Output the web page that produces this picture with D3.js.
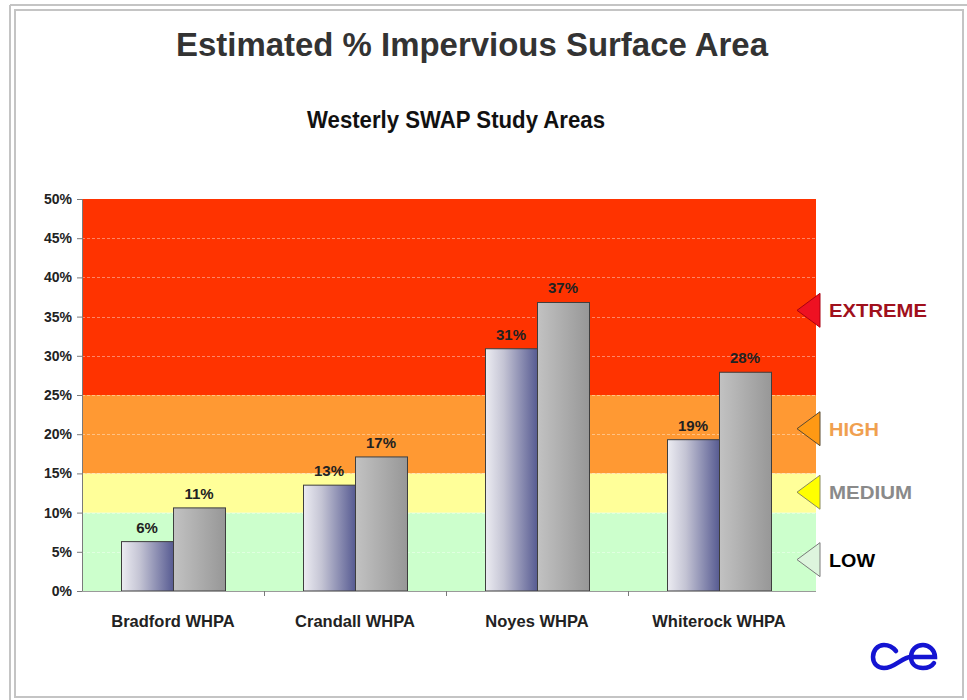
<!DOCTYPE html>
<html>
<head>
<meta charset="utf-8">
<script src="https://cdn.jsdelivr.net/npm/d3@7"></script>
<style>
  html, body { margin: 0; padding: 0; background: #ffffff; }
  svg { display: block; font-family: Arial, "Liberation Sans", sans-serif; }
</style>
</head>
<body>
<svg id="chart" width="967" height="700"></svg>
<script>
// ---- data ----
const categories = ["Bradford WHPA", "Crandall WHPA", "Noyes WHPA", "Whiterock WHPA"];
const seriesNames = ["A", "B"];
const seriesA = [6.3, 13.5, 30.9, 19.3];
const seriesB = [10.6, 17.1, 36.8, 27.9];
const labelsA = ["6%", "13%", "31%", "19%"];
const labelsB = ["11%", "17%", "37%", "28%"];
const yTicks = [0, 5, 10, 15, 20, 25, 30, 35, 40, 45, 50];
const yTickLabels = ["0%", "5%", "10%", "15%", "20%", "25%", "30%", "35%", "40%", "45%", "50%"];
const riskLevels = ["LOW", "MEDIUM", "HIGH", "EXTREME"];
const riskLower = [0, 10, 15, 25];
const riskUpper = [10, 15, 25, 50];
const riskMarkerAt = [4, 12.6, 20.7, 35.8];

const titleText = "Estimated % Impervious Surface Area";
const subtitleText = "Westerly SWAP Study Areas";

// ---- styles ----
const bandFill = ["#ccffcc", "#ffff99", "#ff9933", "#ff3300"];
const markerFill = ["#ddf5dd", "#ffff00", "#ff9914", "#ee1122"];
const markerStroke = ["#7a7a7a", "#8a8a5a", "#5a4a30", "#aa0010"];
const levelText = ["#000000", "#8a8a8a", "#f0a050", "#a0101c"];
const levelTextLen = [46, 83, 50, 98];

const svg = d3.select("#chart");

// frame
svg.append("line").attr("x1", 10).attr("x2", 10).attr("y1", 5).attr("y2", 700)
  .attr("stroke", "#c4c4c4").attr("stroke-width", 2);
svg.append("line").attr("x1", 10).attr("x2", 967).attr("y1", 5).attr("y2", 5)
  .attr("stroke", "#c4c4c4").attr("stroke-width", 2);
svg.append("rect").attr("x", 15).attr("y", 10).attr("width", 948).attr("height", 687)
  .attr("fill", "#ffffff").attr("stroke", "#c4c4c4").attr("stroke-width", 2);

// titles
svg.append("text").attr("x", 472).attr("y", 56).attr("text-anchor", "middle")
  .attr("font-size", 34).attr("font-weight", "bold").attr("fill", "#333333")
  .attr("textLength", 592).attr("lengthAdjust", "spacingAndGlyphs")
  .text(titleText);
svg.append("text").attr("x", 456).attr("y", 128).attr("text-anchor", "middle")
  .attr("font-size", 23).attr("font-weight", "bold").attr("fill", "#111111")
  .attr("textLength", 298).attr("lengthAdjust", "spacingAndGlyphs")
  .text(subtitleText);

// scales
const plotL = 82, plotR = 810, bandR = 816, plotT = 199, plotB = 591;
const x0 = d3.scaleBand().domain(categories).range([plotL, plotR]).paddingInner(0).paddingOuter(0);
const x1 = d3.scaleBand().domain(seriesNames).range([0, x0.bandwidth()]).paddingInner(0).paddingOuter(0.75);
const y = d3.scaleLinear().domain([0, 50]).range([plotB, plotT]);

// risk bands
svg.append("g").selectAll("rect").data(riskLevels).join("rect")
  .attr("x", plotL).attr("width", bandR - plotL)
  .attr("y", (d, i) => y(riskUpper[i]))
  .attr("height", (d, i) => y(riskLower[i]) - y(riskUpper[i]))
  .attr("fill", (d, i) => bandFill[i]);

// gridlines
svg.append("g").selectAll("line").data(yTicks.filter(t => t > 0 && t < 50)).join("line")
  .attr("x1", plotL).attr("x2", bandR)
  .attr("y1", d => Math.round(y(d)) + 0.5).attr("y2", d => Math.round(y(d)) + 0.5)
  .attr("stroke", "#ffffff").attr("stroke-opacity", 0.4)
  .attr("stroke-dasharray", "3,2");

// gradients
const defs = svg.append("defs");
const gA = defs.append("linearGradient").attr("id", "gradA").attr("x1", "0").attr("x2", "1").attr("y1", "0").attr("y2", "0");
gA.append("stop").attr("offset", "0%").attr("stop-color", "#ececf2");
gA.append("stop").attr("offset", "35%").attr("stop-color", "#c4c4d4");
gA.append("stop").attr("offset", "100%").attr("stop-color", "#575b92");
const gB = defs.append("linearGradient").attr("id", "gradB").attr("x1", "0").attr("x2", "1").attr("y1", "0").attr("y2", "0");
gB.append("stop").attr("offset", "0%").attr("stop-color", "#c2c2c2");
gB.append("stop").attr("offset", "100%").attr("stop-color", "#979797");

// bars
const rows = categories.map((c, i) => ({
  cat: c,
  vals: [
    { s: "A", v: seriesA[i], lab: labelsA[i] },
    { s: "B", v: seriesB[i], lab: labelsB[i] }
  ]
}));
const groups = svg.append("g").selectAll("g").data(rows).join("g")
  .attr("transform", d => `translate(${x0(d.cat)},0)`);
groups.selectAll("rect").data(d => d.vals).join("rect")
  .attr("x", d => x1(d.s) + 0.5)
  .attr("width", x1.bandwidth())
  .attr("y", d => y(d.v))
  .attr("height", d => y(0) - y(d.v))
  .attr("fill", d => d.s === "A" ? "url(#gradA)" : "url(#gradB)")
  .attr("stroke", "#3e3e3e").attr("stroke-width", 1);
groups.selectAll("text").data(d => d.vals).join("text")
  .attr("x", d => x1(d.s) + x1.bandwidth() / 2)
  .attr("y", d => y(d.v) - 9)
  .attr("text-anchor", "middle")
  .attr("font-size", 15).attr("font-weight", "bold").attr("fill", "#222222")
  .text(d => d.lab);

// y axis
const yAxis = d3.axisLeft(y).tickValues(yTicks).tickFormat((d, i) => yTickLabels[i]).tickSize(5).tickPadding(5);
const gy = svg.append("g").attr("transform", `translate(${plotL},0)`).call(yAxis);
gy.select(".domain").attr("stroke", "#7a7a7a");
gy.selectAll(".tick line").attr("stroke", "#7a7a7a");
gy.selectAll(".tick text").attr("font-size", 14).attr("font-weight", "bold").attr("fill", "#222222")
  .attr("font-family", "Arial, 'Liberation Sans', sans-serif");

// x axis
svg.append("line").attr("x1", plotL).attr("x2", bandR).attr("y1", plotB + 0.5).attr("y2", plotB + 0.5)
  .attr("stroke", "#9a9a9a");
svg.append("g").selectAll("line").data(categories.slice(1)).join("line")
  .attr("x1", d => x0(d) + 0.5).attr("x2", d => x0(d) + 0.5)
  .attr("y1", plotB).attr("y2", plotB + 5).attr("stroke", "#7a7a7a");
svg.append("g").selectAll("text").data(categories).join("text")
  .attr("x", d => x0(d) + x0.bandwidth() / 2)
  .attr("y", 627)
  .attr("text-anchor", "middle")
  .attr("font-size", 16.5).attr("font-weight", "bold").attr("fill", "#222222")
  .text(d => d);

// risk legend markers
const lg = svg.append("g").selectAll("g").data(riskLevels).join("g")
  .attr("transform", (d, i) => `translate(0,${y(riskMarkerAt[i])})`);
lg.append("path")
  .attr("d", "M797,0 L820,-17 L820,17 Z")
  .attr("fill", (d, i) => markerFill[i])
  .attr("stroke", (d, i) => markerStroke[i]).attr("stroke-width", 1);
lg.append("text")
  .attr("x", 829).attr("y", 7)
  .attr("font-size", 19).attr("font-weight", "bold")
  .attr("fill", (d, i) => levelText[i])
  .attr("textLength", (d, i) => levelTextLen[i]).attr("lengthAdjust", "spacingAndGlyphs")
  .text(d => d);

// logo
svg.append("path")
  .attr("d", "M896,651 C892,646 888,645 884,645 C877,645 873,651 873,657 C873,664 878,668 884,668 C895,668 902,657 911,657 L935,657 C935,650 929,645 923,645 C916,645 911,650 911,657 C911,664 916,668 923,668 C928,668 932,666 934,663")
  .attr("fill", "none").attr("stroke", "#1414d2").attr("stroke-width", 4.5)
  .attr("stroke-linecap", "round");
</script>
</body>
</html>
